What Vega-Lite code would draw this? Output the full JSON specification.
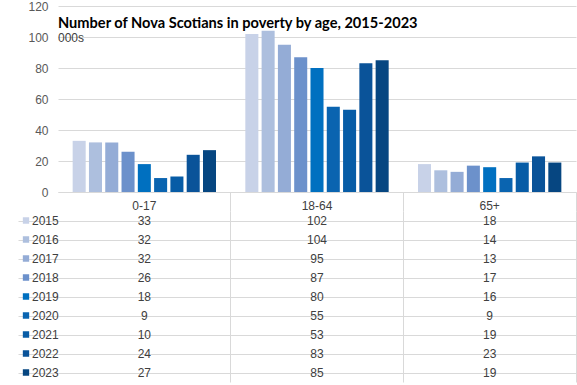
{
  "$schema": "https://vega.github.io/schema/vega-lite/v6.json",
  "padding": {"left": 17, "top": 0, "right": 1, "bottom": 1},
  "background": "white",
  "bounds": "flush",
  "spacing": 19,
  "config": {
    "font": "Liberation Sans",
    "view": {"stroke": null},
    "axis": {"labelFont": "Liberation Sans", "labelFontSize": 12, "titleFontSize": 12}
  },
  "data": {
    "values": [
      {"age": "0-17", "year": "2015", "value": 33},
      {"age": "0-17", "year": "2016", "value": 32},
      {"age": "0-17", "year": "2017", "value": 32},
      {"age": "0-17", "year": "2018", "value": 26},
      {"age": "0-17", "year": "2019", "value": 18},
      {"age": "0-17", "year": "2020", "value": 9},
      {"age": "0-17", "year": "2021", "value": 10},
      {"age": "0-17", "year": "2022", "value": 24},
      {"age": "0-17", "year": "2023", "value": 27},
      {"age": "18-64", "year": "2015", "value": 102},
      {"age": "18-64", "year": "2016", "value": 104},
      {"age": "18-64", "year": "2017", "value": 95},
      {"age": "18-64", "year": "2018", "value": 87},
      {"age": "18-64", "year": "2019", "value": 80},
      {"age": "18-64", "year": "2020", "value": 55},
      {"age": "18-64", "year": "2021", "value": 53},
      {"age": "18-64", "year": "2022", "value": 83},
      {"age": "18-64", "year": "2023", "value": 85},
      {"age": "65+", "year": "2015", "value": 18},
      {"age": "65+", "year": "2016", "value": 14},
      {"age": "65+", "year": "2017", "value": 13},
      {"age": "65+", "year": "2018", "value": 17},
      {"age": "65+", "year": "2019", "value": 16},
      {"age": "65+", "year": "2020", "value": 9},
      {"age": "65+", "year": "2021", "value": 19},
      {"age": "65+", "year": "2022", "value": 23},
      {"age": "65+", "year": "2023", "value": 19}
    ]
  },
  "resolve": {"scale": {"color": "independent", "x": "shared"}},
  "vconcat": [
    {
      "width": 518,
      "height": 186,
      "title": {
        "text": "Number of Nova Scotians in poverty by age, 2015-2023",
        "subtitle": "000s",
        "anchor": "start",
        "frame": "group",
        "offset": -44,
        "font": "Lato",
        "fontSize": 14.6,
        "fontWeight": "bold",
        "color": "#000000",
        "subtitleFont": "Liberation Sans",
        "subtitleFontSize": 12,
        "subtitleColor": "#404040",
        "subtitlePadding": 2
      },
      "mark": {"type": "bar"},
      "encoding": {
        "x": {
          "field": "age", "type": "nominal", "sort": ["0-17", "18-64", "65+"],
          "scale": {"paddingInner": 0, "paddingOuter": 0},
          "axis": {"title": null, "labelAngle": 0, "ticks": false, "labelPadding": 8, "labelColor": "#404040", "domainColor": "#d9d9d9", "labelFontSize": 12}
        },
        "xOffset": {
          "field": "year", "type": "nominal",
          "scale": {"paddingInner": 0.2, "paddingOuter": 0.9}
        },
        "y": {
          "field": "value", "type": "quantitative",
          "scale": {"domain": [0, 120], "nice": false},
          "axis": {"title": null, "values": [0, 20, 40, 60, 80, 100, 120], "domain": false, "ticks": false, "labelPadding": 10, "labelColor": "#595959", "gridColor": "#d9d9d9"}
        },
        "color": {
          "field": "year", "type": "nominal",
          "scale": {"domain": ["2015","2016","2017","2018","2019","2020","2021","2022","2023"],
                    "range": ["#c8d2e8","#adbfde","#94acd6","#6c91cb","#0070c0","#0a64b0","#075ca6","#0a5399","#064681"]},
          "legend": null
        }
      }
    },
    {
      "width": 518,
      "height": 171,
      "encoding": {
        "x": {
          "field": "age", "type": "nominal", "sort": ["0-17", "18-64", "65+"],
          "scale": {"paddingInner": 0, "paddingOuter": 0},
          "axis": {"orient": "top", "title": null, "labels": false, "domain": false, "bandPosition": 1, "tickSize": 19, "tickColor": "#d9d9d9", "grid": true, "gridColor": "#d9d9d9"}
        },
        "y": {
          "field": "year", "type": "ordinal",
          "scale": {"paddingInner": 0, "paddingOuter": 0},
          "axis": {"title": null, "labels": false, "domain": false, "bandPosition": 1, "tickSize": 40, "tickColor": "#d9d9d9", "grid": true, "gridColor": "#d9d9d9"}
        }
      },
      "layer": [
        {
          "mark": {"type": "point", "filled": true, "opacity": 0},
          "encoding": {
            "color": {
              "field": "year", "type": "nominal",
              "scale": {"domain": ["2015","2016","2017","2018","2019","2020","2021","2022","2023"],
                        "range": ["#c8d2e8","#adbfde","#94acd6","#6c91cb","#0070c0","#0a64b0","#075ca6","#0a5399","#064681"]},
              "legend": {
                "title": null, "orient": "none", "legendX": -38, "legendY": 0,
                "symbolType": "square", "symbolSize": 40, "symbolOpacity": 1, "symbolStrokeWidth": 0,
                "labelFontSize": 12, "labelColor": "#404040", "labelFont": "Liberation Sans",
                "clipHeight": 19, "rowPadding": 0, "labelOffset": 0
              }
            }
          }
        },
        {
          "mark": {"type": "text", "fontSize": 12, "color": "#404040", "font": "Liberation Sans"},
          "encoding": {"text": {"field": "value", "type": "quantitative"}}
        }
      ]
    }
  ]
}
